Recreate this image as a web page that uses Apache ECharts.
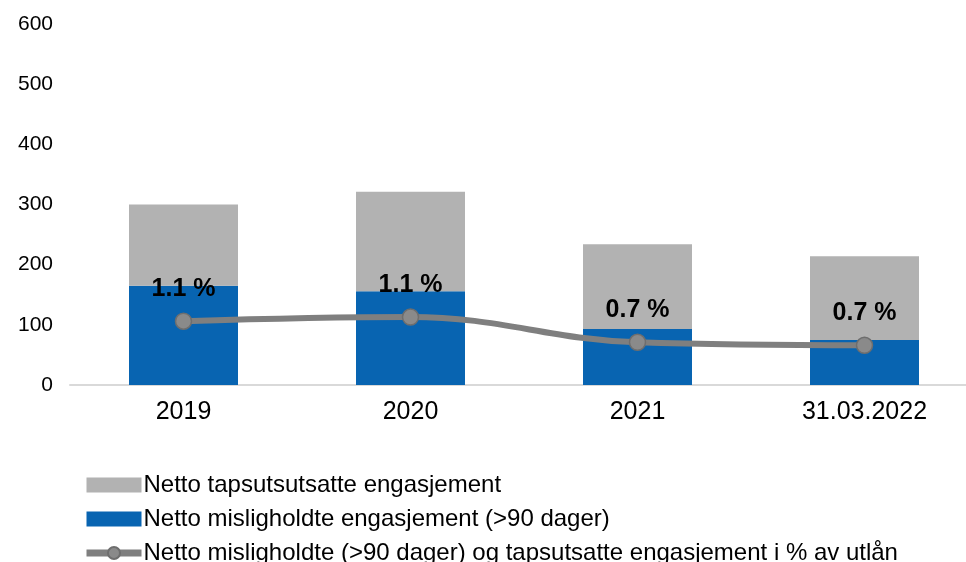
<!DOCTYPE html>
<html>
<head>
<meta charset="utf-8">
<script src="https://cdn.jsdelivr.net/npm/echarts@6/dist/echarts.min.js"></script>
<style>html,body{margin:0;padding:0;background:#fff;}#c{width:966px;height:562px;}</style>
</head>
<body>
<div id="c"></div>
<script>
const categories = ['2019', '2020', '2021', '31.03.2022'];
const misligholdte = [165, 156, 93, 75];
const tapsutsatte = [135, 165, 141, 139];
const prosent = [1.06, 1.13, 0.71, 0.66];
const yTicks = [0, 100, 200, 300, 400, 500, 600];
const seriesNames = [
  'Netto tapsutsutsatte engasjement',
  'Netto misligholdte engasjement (>90 dager)',
  'Netto misligholdte (>90 dager) og tapsutsatte engasjement i % av utlån'
];

const chart = echarts.init(document.getElementById('c'));
const font = 'Liberation Sans, Arial, sans-serif';
chart.setOption({
  animation: false,
  grid: { left: 70, width: 908, top: 24, bottom: 177, containLabel: false, outerBoundsMode: 'none' },
  legend: {
    orient: 'vertical',
    left: 83,
    top: 473,
    height: 150,
    padding: 0,
    itemWidth: 55,
    itemHeight: 15,
    itemGap: 10,
    textStyle: { fontFamily: font, fontSize: 24, color: '#000', padding: [0, 0, 0, -3] },
    data: [
      { name: seriesNames[0], icon: 'rect' },
      { name: seriesNames[1], icon: 'rect' },
      { name: seriesNames[2], lineStyle: { width: 7, color: '#7f7f7f' } }
    ]
  },
  xAxis: {
    type: 'category',
    data: categories,
    axisLine: { lineStyle: { color: '#d9d9d9', width: 2 } },
    axisTick: { show: false },
    axisLabel: { fontFamily: font, fontSize: 25, color: '#000', margin: 15 }
  },
  yAxis: [{
    type: 'value',
    min: yTicks[0],
    max: yTicks[yTicks.length - 1],
    interval: 100,
    splitLine: { show: false },
    axisLine: { show: false },
    axisTick: { show: false },
    axisLabel: { fontFamily: font, fontSize: 21, color: '#000', margin: 17 }
  }, {
    type: 'value',
    min: 0,
    max: 6,
    show: false
  }],
  series: [{
    name: seriesNames[1],
    type: 'bar',
    stack: 's',
    barWidth: 109,
    itemStyle: { color: '#0864b1' },
    data: misligholdte
  }, {
    name: seriesNames[0],
    type: 'bar',
    stack: 's',
    barWidth: 109,
    itemStyle: { color: '#b2b2b2' },
    data: tapsutsatte
  }, {
    name: seriesNames[2],
    type: 'line',
    yAxisIndex: 1,
    smooth: 0.4,
    symbol: 'circle',
    symbolSize: 16,
    lineStyle: { color: '#7f7f7f', width: 6 },
    itemStyle: { color: '#8a8a8a', borderColor: '#6e6e6e', borderWidth: 1.5 },
    label: {
      show: true,
      position: 'top',
      distance: 11,
      fontFamily: font,
      fontSize: 25,
      fontWeight: 'bold',
      color: '#000',
      formatter: p => p.value.toFixed(1) + ' %'
    },
    data: prosent,
    z: 5
  }]
});
</script>
</body>
</html>
